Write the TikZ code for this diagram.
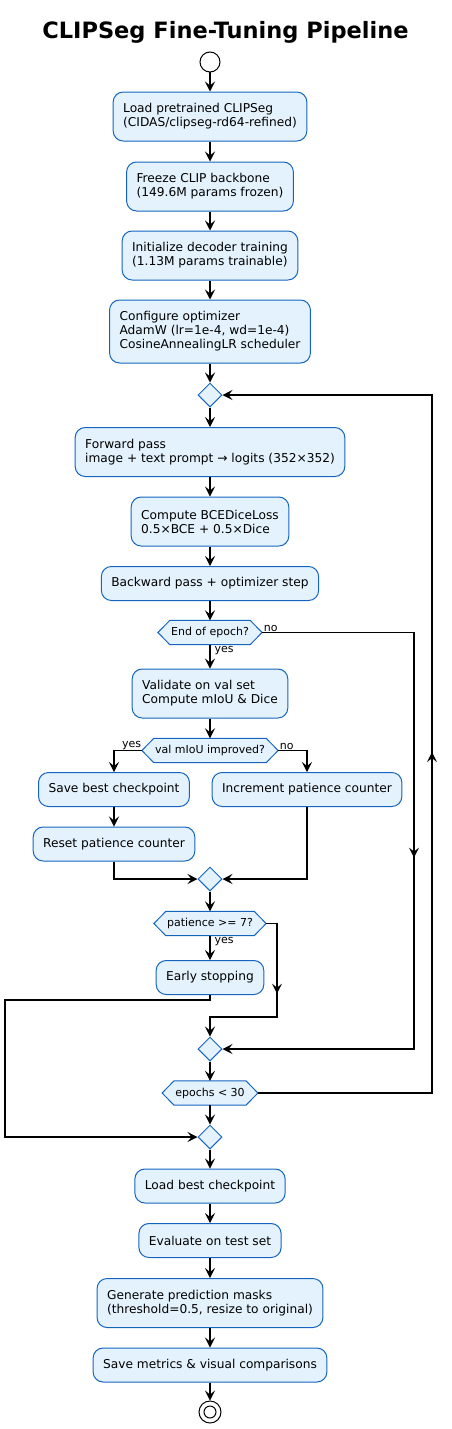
\documentclass[tikz,border=0pt]{standalone}
\usepackage{fontspec}
\setmainfont{DejaVu Sans}
\usetikzlibrary{arrows.meta,shapes.geometric,backgrounds,decorations.markings}
\definecolor{fillc}{HTML}{E3F2FD}
\definecolor{bordc}{HTML}{1565C0}
\tikzset{
  act/.style={draw=bordc, fill=fillc, rounded corners=10pt, line width=1pt, inner xsep=10pt, inner ysep=0pt, align=left, font=\fontsize{12.2}{14}\selectfont, text=black},
  oneline/.style={minimum height=34pt},
  twoline/.style={minimum height=49pt},
  threeline/.style={minimum height=63pt},
  dia/.style={diamond, draw=bordc, fill=fillc, line width=1pt, minimum width=24pt, minimum height=24pt, inner sep=0pt},
  hexl/.style={inner xsep=1pt, inner ysep=0pt, minimum height=24pt, font=\fontsize{11}{13}\selectfont},
  hexs/.style={draw=bordc, fill=fillc, line width=1pt},
  tipA/.tip={Stealth[length=10pt,width=10pt,inset=4pt]},
  conn/.style={draw=black, line width=1.1pt, -tipA},
  midarrow/.style={postaction={decorate, decoration={markings, mark=at position #1 with {\arrow{tipA}}}}},
  lab/.style={font=\fontsize{11}{13}\selectfont, inner sep=0.5pt},
}
\begin{document}
\begin{tikzpicture}[x=1pt, y=-1pt]
\useasboundingbox (0,0) rectangle (452,1429);
% title
\node[anchor=base, font=\fontsize{22.5}{26}\selectfont\bfseries] (title) at (225.5,38) {CLIPSeg Fine-Tuning Pipeline};
% start
\node[circle, draw=black, line width=1pt, fill=white, minimum size=20pt, inner sep=0pt] (start) at (210,62) {};
% main column
\node[act, twoline] (b1) at (210,116.5) {Load pretrained CLIPSeg\\(CIDAS/clipseg-rd64-refined)};
\node[act, twoline] (b2) at (210,186.5) {Freeze CLIP backbone\\(149.6M params frozen)};
\node[act, twoline] (b3) at (210,255.5) {Initialize decoder training\\(1.13M params trainable)};
\node[act, threeline] (b4) at (210,331.5) {Configure optimizer\\AdamW (lr=1e-4, wd=1e-4)\\CosineAnnealingLR scheduler};
\node[dia] (d1) at (210,395) {};
\node[act, twoline] (fwd) at (210,452) {Forward pass\\image + text prompt → logits (352×352)};
\node[act, twoline] (comp) at (210,521.5) {Compute BCEDiceLoss\\0.5×BCE + 0.5×Dice};
\node[act, oneline] (back) at (210,583.5) {Backward pass + optimizer step};
\node[hexl] (h1) at (210,632.5) {End of epoch?};
\node[act, twoline] (valid) at (210,693.5) {Validate on val set\\Compute mIoU \& Dice};
\node[hexl] (h2) at (210,750.5) {val mIoU improved?};
\node[act, oneline] (save) at (114,789.5) {Save best checkpoint};
\node[act, oneline] (incr) at (307,789.5) {Increment patience counter};
\node[act, oneline] (reset) at (114,844) {Reset patience counter};
\node[dia] (d2) at (210,879) {};
\node[hexl] (h3) at (210,923.5) {patience >= 7?};
\node[act, oneline] (early) at (210,977.5) {Early stopping};
\node[dia] (d3) at (210,1049) {};
\node[hexl] (h4) at (210,1093) {epochs < 30};
\node[dia] (d4) at (210,1137) {};
\node[act, oneline] (loadb) at (210,1186) {Load best checkpoint};
\node[act, oneline] (evalt) at (210,1240.5) {Evaluate on test set};
\node[act, twoline] (gen) at (210,1303) {Generate prediction masks\\(threshold=0.5, resize to original)};
\node[act, oneline] (savem) at (210,1365) {Save metrics \& visual comparisons};
\node[circle, draw=black, line width=1pt, fill=white, minimum size=22pt, inner sep=0pt] (stop) at (210,1412) {};
\node[circle, draw=black, line width=1pt, minimum size=12pt, inner sep=0pt] (stopin) at (stop.center) {};
% hexagon tips
\foreach \h in {h1,h2,h3,h4}{
  \coordinate (\h L) at ([xshift=-12pt]\h.west);
  \coordinate (\h R) at ([xshift=12pt]\h.east);
}
\begin{scope}[on background layer]
\foreach \h in {h1,h2,h3,h4}
  \path[hexs] (\h L) -- (\h.north west) -- (\h.north east) -- (\h R) -- (\h.south east) -- (\h.south west) -- cycle;
\end{scope}
% bend points
\coordinate (c1) at (414,1049);
\coordinate (c3) at (277,1017);
\coordinate (c4) at (5,1000);
\coordinate (c5) at (432,395);
% connectors
\draw[conn] (start.south) -- (b1.north);
\draw[conn] (b1.south) -- (b2.north);
\draw[conn] (b2.south) -- (b3.north);
\draw[conn] (b3.south) -- (b4.north);
\draw[conn] (b4.south) -- (d1.north);
\draw[conn] (d1.south) -- (fwd.north);
\draw[conn] (fwd.south) -- (comp.north);
\draw[conn] (comp.south) -- (back.north);
\draw[conn] (back.south) -- (h1.north);
\draw[conn] (h1.south) -- (valid.north);
\draw[conn, midarrow=377pt] (h1R) -| (c1) -- (d3.east);
\draw[conn] (valid.south) -- (h2.north);
\draw[conn] (h2L) -| (save.north);
\draw[conn] (h2R) -| (incr.north);
\draw[conn] (save.south) -- (reset.north);
\draw[conn] (reset.south) |- (d2.west);
\draw[conn] (incr.south) |- (d2.east);
\draw[conn] (d2.south) -- (h3.north);
\draw[conn] (h3.south) -- (early.north);
\draw[conn, midarrow=81pt] (h3R) -| (c3) -| (d3.north);
\draw[conn] (early.south) |- (c4) |- (d4.west);
\draw[conn] (d3.south) -- (h4.north);
\draw[conn, midarrow=515pt] (h4R) -| (c5) -- (d1.east);
\draw[conn] (h4.south) -- (d4.north);
\draw[conn] (d4.south) -- (loadb.north);
\draw[conn] (loadb.south) -- (evalt.north);
\draw[conn] (evalt.south) -- (gen.north);
\draw[conn] (gen.south) -- (savem.north);
\draw[conn] (savem.south) -- (stop.north);
% labels
\node[lab, anchor=north west] (y1) at ([xshift=4pt,yshift=-1pt]h1.south) {yes};
\node[lab, anchor=south west] (n1) at ([xshift=1pt]h1R) {no};
\node[lab, anchor=south east] (y2) at (h2L) {yes};
\node[lab, anchor=south west] (n2) at ([xshift=1pt]h2R) {no};
\node[lab, anchor=north west] (y3) at ([xshift=4pt,yshift=-1pt]h3.south) {yes};
\end{tikzpicture}
\end{document}
